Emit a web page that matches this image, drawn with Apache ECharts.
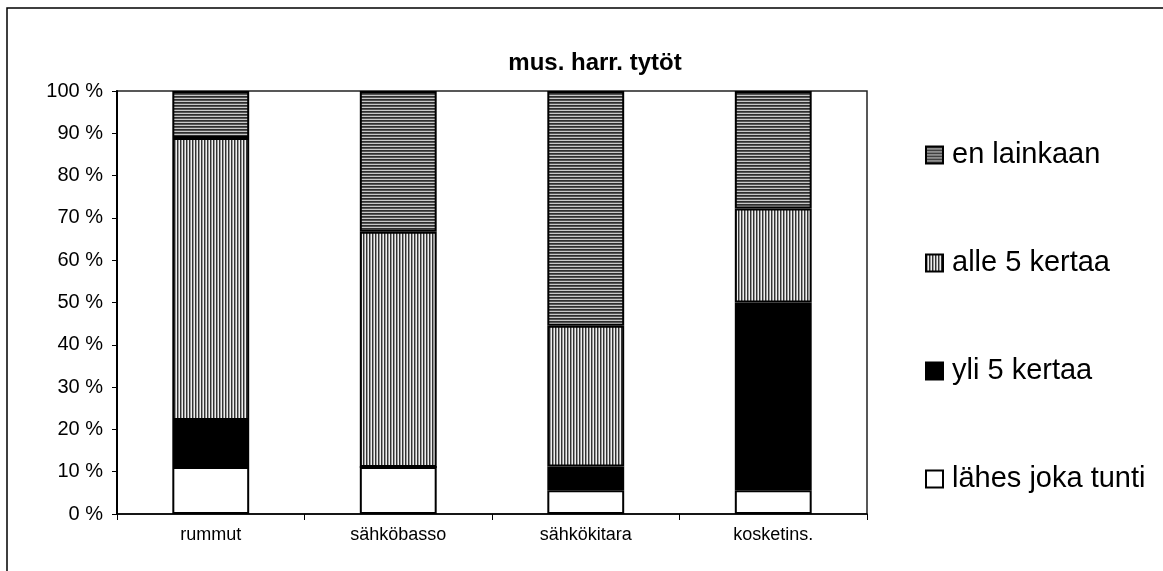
<!DOCTYPE html>
<html>
<head>
<meta charset="utf-8">
<script src="https://cdn.jsdelivr.net/npm/echarts@6/dist/echarts.min.js"></script>
<style>
html,body{margin:0;padding:0;background:#fff;}
#chart{width:1163px;height:571px;}
</style>
</head>
<body>
<div id="chart"></div>
<script>
const title = 'mus. harr. tytöt';
const categories = ['rummut', 'sähköbasso', 'sähkökitara', 'kosketins.'];
const seriesNames = ['lähes joka tunti', 'yli 5 kertaa', 'alle 5 kertaa', 'en lainkaan'];
const lahesJokaTunti = [11.1, 11.1, 5.6, 5.6];
const yli5Kertaa = [11.1, 0, 5.6, 44.4];
const alle5Kertaa = [66.7, 55.6, 33.3, 22.2];
const enLainkaan = [11.1, 33.3, 55.5, 27.8];
const legendOrder = ['en lainkaan', 'alle 5 kertaa', 'yli 5 kertaa', 'lähes joka tunti'];

function stripePattern(horizontal, colors) {
  const c = document.createElement('canvas');
  const n = colors.length;
  c.width = horizontal ? 4 : n;
  c.height = horizontal ? n : 4;
  const ctx = c.getContext('2d');
  colors.forEach((col, i) => {
    ctx.fillStyle = col;
    if (horizontal) ctx.fillRect(0, i, 4, 1);
    else ctx.fillRect(i, 0, 1, 4);
  });
  return { image: c, repeat: 'repeat' };
}

const hPattern = stripePattern(true, ['#2e2e2e', '#555555', '#c8c8c8']);
const vPattern = stripePattern(false, ['#333333', '#999999', '#eeeeee']);

const fills = [
  '#ffffff',
  '#000000',
  vPattern,
  hPattern
];
const dataSets = [lahesJokaTunti, yli5Kertaa, alle5Kertaa, enLainkaan];

const chart = echarts.init(document.getElementById('chart'), null, { renderer: 'canvas' });
const font = '"Liberation Sans", Arial, sans-serif';

chart.setOption({
  animation: false,
  backgroundColor: '#ffffff',
  title: {
    text: title,
    left: 590,
    textAlign: 'center',
    top: 46,
    textStyle: { fontFamily: font, fontWeight: 'bold', fontSize: 24, color: '#000' }
  },
  graphic: [{
    type: 'rect',
    shape: { x: 7, y: 8, width: 1200, height: 620 },
    style: { fill: 'none', stroke: '#000', lineWidth: 1.5 },
    silent: true
  }],
  legend: {
    orient: 'vertical',
    left: 925,
    top: 139,
    padding: 0,
    itemWidth: 17,
    itemHeight: 17,
    itemGap: 76,
    icon: 'rect',
    data: legendOrder,
    selectedMode: false,
    textStyle: { fontFamily: font, fontSize: 29, color: '#000', lineHeight: 32, padding: [0, 0, 0, 4] }
  },
  grid: {
    left: 117,
    right: 296,
    top: 91,
    bottom: 57,
    show: true,
    borderColor: '#222',
    borderWidth: 1.5,
    containLabel: false
  },
  xAxis: {
    type: 'category',
    data: categories,
    axisLine: { show: true, lineStyle: { color: '#000', width: 1.5 } },
    axisTick: { show: true, length: 6, lineStyle: { color: '#000', width: 1 } },
    axisLabel: { fontFamily: font, fontSize: 18, color: '#000', margin: 12 }
  },
  yAxis: {
    type: 'value',
    min: 0,
    max: 100,
    interval: 10,
    splitLine: { show: false },
    axisLine: { show: true, lineStyle: { color: '#000', width: 2 } },
    axisTick: { show: true, inside: false, length: 5, lineStyle: { color: '#000', width: 1 } },
    axisLabel: { fontFamily: font, fontSize: 20, color: '#000', margin: 14, formatter: '{value} %' }
  },
  series: seriesNames.map((name, i) => ({
    name: name,
    type: 'bar',
    stack: 'total',
    barWidth: '41%',
    data: dataSets[i],
    itemStyle: { color: fills[i], borderColor: '#000', borderWidth: 2 },
    emphasis: { disabled: true }
  }))
});
</script>
</body>
</html>
